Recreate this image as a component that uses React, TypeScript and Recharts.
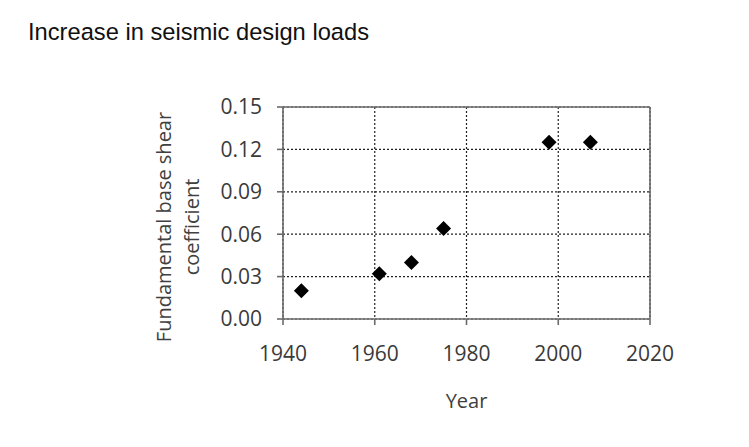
import React from "react";
import {
  ScatterChart,
  Scatter,
  XAxis,
  YAxis,
  CartesianGrid,
  ReferenceLine,
} from "recharts";

const years = [1944, 1961, 1968, 1975, 1998, 2007];
const coefficients = [0.02, 0.032, 0.04, 0.064, 0.125, 0.125];
const xTicks = [1940, 1960, 1980, 2000, 2020];
const yTicks = [0, 0.03, 0.06, 0.09, 0.12, 0.15];

const data = years.map((year, i) => ({ year, coef: coefficients[i] }));

const FONT = "'Open Sans', 'Noto Sans', sans-serif";
const FRAME = "#6b6b6b";

const Diamond = (props: any) => {
  const { cx, cy } = props;
  const r = 7.5;
  return (
    <polygon
      points={`${cx},${cy - r} ${cx + r},${cy} ${cx},${cy + r} ${cx - r},${cy}`}
      fill="#000"
    />
  );
};

const YLabel = (props: any) => {
  const vb = props.viewBox || {};
  const cy = (vb.y ?? 107) + (vb.height ?? 212) / 2 + 14;
  return (
    <g fontFamily={FONT} fontSize={20} fill="#404040">
      <text x={171} y={cy} textAnchor="middle" transform={`rotate(-90 171 ${cy})`}>
        Fundamental base shear
      </text>
      <text x={199} y={cy} textAnchor="middle" transform={`rotate(-90 199 ${cy})`}>
        coefficient
      </text>
    </g>
  );
};

const XLabel = (props: any) => {
  const vb = props.viewBox || {};
  const cx = (vb.x ?? 283) + (vb.width ?? 367) / 2;
  return (
    <text x={cx} y={408} textAnchor="middle" fontFamily={FONT} fontSize={20} fill="#404040">
      Year
    </text>
  );
};

export default function App() {
  const tickStyle = { fontFamily: FONT, fontSize: 21, fill: "#3a3a3a" };
  return (
    <div style={{ position: "absolute", left: 0, top: 0, width: 749, height: 447, background: "#fff" }}>
      <div
        style={{
          position: "absolute",
          left: 28,
          top: 19,
          fontFamily: "'Liberation Sans', Arial, sans-serif",
          fontSize: 23.7,
          color: "#111",
          whiteSpace: "nowrap",
        }}
      >
        Increase in seismic design loads
      </div>
      <ScatterChart
        width={749}
        height={447}
        margin={{ top: 107, right: 99, bottom: 0, left: 0 }}
      >
        <CartesianGrid stroke="#222" strokeDasharray="2 2" strokeWidth={1.2} />
        <XAxis
          type="number"
          dataKey="year"
          domain={[1940, 2020]}
          ticks={xTicks}
          height={128}
          tickSize={6}
          tickMargin={21}
          tick={tickStyle}
          axisLine={{ stroke: FRAME, strokeWidth: 1.6 }}
          tickLine={{ stroke: FRAME, strokeWidth: 1.6 }}
          label={{ content: XLabel }}
        />
        <YAxis
          type="number"
          dataKey="coef"
          domain={[0, 0.15]}
          ticks={yTicks}
          width={283}
          tickSize={6}
          tickMargin={15}
          tick={tickStyle}
          tickFormatter={(v: number) => v.toFixed(2)}
          axisLine={{ stroke: FRAME, strokeWidth: 1.6 }}
          tickLine={{ stroke: FRAME, strokeWidth: 1.6 }}
          label={{ content: YLabel }}
        />
        <ReferenceLine y={0.15} stroke={FRAME} strokeWidth={1.6} />
        <ReferenceLine x={2020} stroke={FRAME} strokeWidth={1.6} />
        <Scatter data={data} shape={Diamond} isAnimationActive={false} />
      </ScatterChart>
    </div>
  );
}
